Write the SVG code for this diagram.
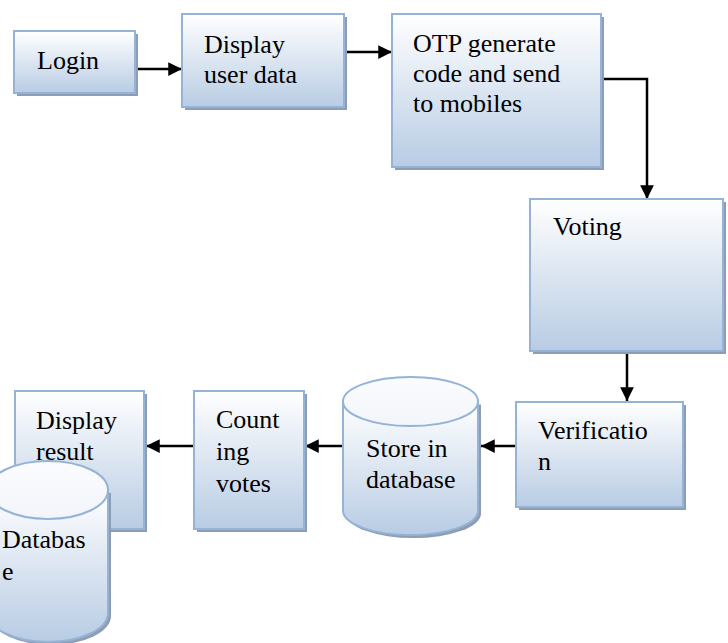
<svg xmlns="http://www.w3.org/2000/svg" width="728" height="643" viewBox="0 0 728 643">
  <defs>
    <linearGradient id="fillGrad" x1="0" y1="0" x2="0" y2="1">
      <stop offset="0" stop-color="#ffffff"/>
      <stop offset="1" stop-color="#b8cce4"/>
    </linearGradient>
    <linearGradient id="topGrad" x1="0" y1="0" x2="0" y2="1">
      <stop offset="0" stop-color="#fbfcfe"/>
      <stop offset="1" stop-color="#f2f5fa"/>
    </linearGradient>
    <marker id="arrow" viewBox="0 0 10 10" refX="10" refY="5" markerWidth="5.5" markerHeight="5.5" markerUnits="strokeWidth" orient="auto">
      <path d="M0,0 L10,5 L0,10 z" fill="#000"/>
    </marker>
  </defs>
  <style>
    .shadow { fill: #8d9db3; }
    .box { fill: url(#fillGrad); stroke: #95b3d7; stroke-width: 2; }
    .cyl { fill: url(#fillGrad); stroke: #95b3d7; stroke-width: 2; }
    .cyltop { fill: url(#topGrad); stroke: #95b3d7; stroke-width: 2; }
    .label { font-family: 'Liberation Serif', 'DejaVu Serif', serif; font-size: 26px; fill: #000; }
    .conn { fill: none; stroke: #000; stroke-width: 2.5; marker-end: url(#arrow); }
  </style>

  <rect width="728" height="643" fill="#ffffff"/>

  <!-- connectors -->
  <g id="connectors">
    <line class="conn" x1="133" y1="69" x2="182" y2="69"/>
    <line class="conn" x1="344" y1="52" x2="392" y2="52"/>
    <polyline class="conn" points="601,79 647,79 647,199"/>
    <line class="conn" x1="627" y1="351" x2="627" y2="401"/>
    <line class="conn" x1="516" y1="446" x2="481" y2="446"/>
    <line class="conn" x1="343" y1="446" x2="305" y2="446"/>
    <line class="conn" x1="194" y1="446" x2="146" y2="446"/>
    <line x1="598" y1="67" x2="601" y2="67" stroke="#000" stroke-width="1.5"/>
  </g>

  <!-- Login -->
  <g id="login">
    <rect class="shadow" x="17" y="34" width="121" height="62"/>
    <rect class="box" x="14" y="31" width="121" height="62"/>
    <text class="label" x="37" y="69">Login</text>
  </g>

  <!-- Display user data -->
  <g id="display-user-data">
    <rect class="shadow" x="185" y="17" width="162" height="93"/>
    <rect class="box" x="182" y="14" width="162" height="93"/>
    <text class="label" x="204" y="53">Display</text>
    <text class="label" x="204" y="83">user data</text>
  </g>

  <!-- OTP generate -->
  <g id="otp">
    <rect class="shadow" x="395" y="17" width="209" height="153"/>
    <rect class="box" x="392" y="14" width="209" height="153"/>
    <text class="label" x="413" y="52">OTP generate</text>
    <text class="label" x="413" y="82">code and send</text>
    <text class="label" x="413" y="112">to mobiles</text>
  </g>

  <!-- Voting -->
  <g id="voting">
    <rect class="shadow" x="533" y="202" width="193" height="152"/>
    <rect class="box" x="530" y="199" width="193" height="152"/>
    <text class="label" x="553" y="235">Voting</text>
  </g>

  <!-- Verification -->
  <g id="verification">
    <rect class="shadow" x="519" y="405" width="167" height="105"/>
    <rect class="box" x="516" y="402" width="167" height="105"/>
    <text class="label" x="538" y="439">Verificatio</text>
    <text class="label" x="538" y="470">n</text>
  </g>

  <!-- Store in database -->
  <g id="store-db">
    <path class="shadow" d="M346,404.5 L346,513.5 A67.5,24.5 0 0 0 481,513.5 L481,404.5 Z"/>
    <path class="cyl" d="M343,401.5 L343,510.5 A67.5,24.5 0 0 0 478,510.5 L478,401.5 Z"/>
    <ellipse class="cyltop" cx="410.5" cy="401.5" rx="67.5" ry="24.5"/>
    <text class="label" x="366" y="457">Store in</text>
    <text class="label" x="366" y="488">database</text>
  </g>

  <!-- Counting votes -->
  <g id="counting">
    <rect class="shadow" x="197" y="394" width="110" height="138"/>
    <rect class="box" x="194" y="391" width="110" height="138"/>
    <text class="label" x="216" y="428">Count</text>
    <text class="label" x="216" y="460">ing</text>
    <text class="label" x="216" y="492">votes</text>
  </g>

  <!-- Display result -->
  <g id="display-result">
    <rect class="shadow" x="18" y="394" width="129" height="138"/>
    <rect class="box" x="15" y="391" width="129" height="138"/>
    <text class="label" x="36" y="429">Display</text>
    <text class="label" x="36" y="460">result</text>
  </g>

  <!-- Database -->
  <g id="database">
    <path class="shadow" d="M-9,493 L-9,616 A60,29 0 0 0 111,616 L111,493 Z"/>
    <path class="cyl" d="M-12,490 L-12,613 A60,29 0 0 0 108,613 L108,490 Z"/>
    <ellipse class="cyltop" cx="48" cy="490" rx="60" ry="29"/>
    <text class="label" x="2" y="548">Databas</text>
    <text class="label" x="2" y="580">e</text>
  </g>
</svg>
